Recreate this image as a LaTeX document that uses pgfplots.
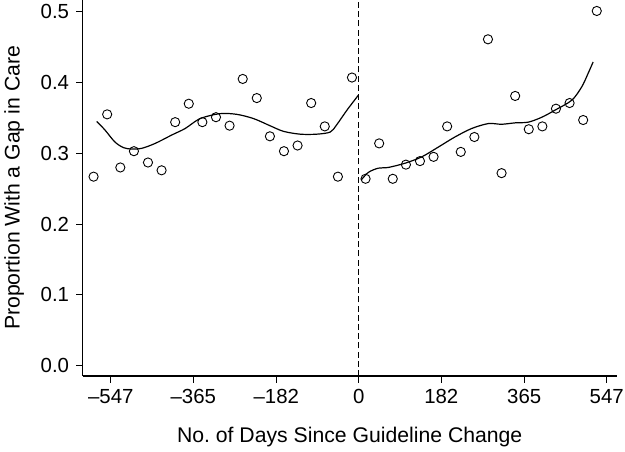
\documentclass[border=0pt]{standalone}
\usepackage{pgfplots}
\pgfplotsset{compat=1.18}
\usepackage{fontspec}
\setmainfont{Liberation Sans}

\begin{document}
\begin{tikzpicture}
\begin{axis}[
	name=ax,
	scale only axis,
	width=267bp, height=188bp,
	xmin=-609, xmax=569,
	ymin=-0.0145, ymax=0.5165,
	axis lines*=left,
	axis line style={-, line width=0.55bp},
	tick align=outside,
	major tick length=3.3bp,
	every tick/.style={black, line width=0.55bp},
	xtick={-547,-365,-182,0,182,365,547},
	xticklabels={--547,--365,--182,0,182,365,547},
	ytick={0,0.1,0.2,0.3,0.4,0.5},
	yticklabels={0.0,0.1,0.2,0.3,0.4,0.5},
	ticklabel style={font=\fontsize{10.2bp}{12bp}\selectfont},
	label style={font=\fontsize{10.6bp}{12bp}\selectfont},
	xlabel={No.\ of Days Since Guideline Change},
	ylabel={Proportion With a Gap in Care},
	xlabel style={yshift=-4.5bp},
	ylabel style={yshift=1.5bp},
	clip=false,
]
% zero line
\addplot[black, line width=0.5bp, dash pattern=on 3bp off 1.6bp] coordinates {(0,-0.0145)(0,0.5165)};

% monthly proportions, before
\addplot[only marks, mark=o, mark size=2.3bp, black, line width=0.45bp] coordinates {
(-585,0.267)(-555,0.355)(-526,0.280)(-496,0.303)(-465,0.287)(-435,0.276)
(-405,0.344)(-375,0.370)(-345,0.344)(-315,0.351)(-285,0.339)(-256,0.405)
(-225,0.378)(-196,0.324)(-165,0.303)(-135,0.311)(-105,0.371)(-75,0.338)
(-46,0.267)(-15,0.407)};
% monthly proportions, after
\addplot[only marks, mark=o, mark size=2.3bp, black, line width=0.45bp] coordinates {
(15,0.264)(45,0.314)(75,0.264)(104,0.284)(135,0.289)(165,0.295)
(195,0.338)(225,0.302)(255,0.323)(285,0.461)(315,0.272)(345,0.381)
(375,0.334)(405,0.338)(435,0.363)(465,0.371)(495,0.347)(525,0.501)};

% smoothed fits
\addplot[black, line width=0.6bp, smooth, tension=0.5] coordinates {
(-578,0.345)(-560,0.333)(-538,0.316)(-519,0.308)(-501,0.306)(-479,0.307)
(-449,0.314)(-412,0.326)(-383,0.335)(-350,0.349)(-306,0.356)(-269,0.355)
(-232,0.349)(-196,0.339)(-166,0.331)(-129,0.327)(-93,0.327)(-63,0.330)
(-49,0.340)(-26,0.361)(-1,0.382)};
\addplot[black, line width=0.6bp, smooth, tension=0.5] coordinates {
(5,0.262)(21,0.273)(43,0.279)(65,0.280)(102,0.286)(139,0.295)(176,0.309)
(212,0.323)(249,0.335)(286,0.342)(315,0.341)(345,0.343)(374,0.344)
(404,0.351)(433,0.361)(470,0.375)(492,0.394)(506,0.413)(517,0.429)};
\end{axis}
\pgfresetboundingbox
\path[use as bounding box] ([shift={(-41.35bp,-38bp)}]ax.south west) rectangle ([shift={(4.15bp,0bp)}]ax.north east);
\end{tikzpicture}
\end{document}
